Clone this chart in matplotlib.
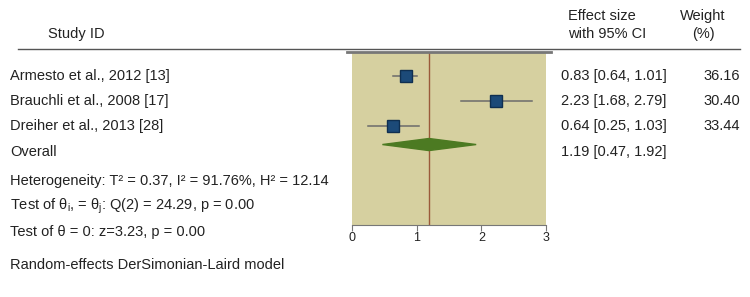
import matplotlib
matplotlib.use("Agg")
import matplotlib.pyplot as plt
from matplotlib.lines import Line2D

plt.rcParams["font.family"] = ["Liberation Sans", "DejaVu Sans"]
plt.rcParams["mathtext.fontset"] = "custom"
plt.rcParams["mathtext.rm"] = "Liberation Sans"
plt.rcParams["mathtext.it"] = "Liberation Sans"

studies = ["Armesto et al., 2012 [13]", "Brauchli et al., 2008 [17]", "Dreiher et al., 2013 [28]"]
effect = [0.83, 2.23, 0.64]
ci_low = [0.64, 1.68, 0.25]
ci_high = [1.01, 2.79, 1.03]
weight = [36.16, 30.40, 33.44]
overall = 1.19
overall_low = 0.47
overall_high = 1.92
stats_lines = [
    "Heterogeneity: T\u00b2 = 0.37, I\u00b2 = 91.76%, H\u00b2 = 12.14",
    "Test of \u03b8$_i$, = \u03b8$_j$: Q(2) = 24.29, p = 0.00",
    "Test of \u03b8 = 0: z=3.23, p = 0.00",
]
model_note = "Random-effects DerSimonian-Laird model"

W, H = 750, 297
fig = plt.figure(figsize=(W / 100, H / 100), dpi=100)


def fx(px):
    return px / W


def fy(py):
    return 1 - py / H


TXT = "#222222"
FS = 10.5

# forest panel
ax = fig.add_axes([fx(352), fy(225), fx(546) - fx(352), fy(52) - fy(225)])
ax.set_facecolor("#d6d0a0")
ax.set_xlim(0, 3)
ax.set_ylim(5.92, -0.96)
rows = list(range(len(studies)))
for i in rows:
    ax.plot([ci_low[i], ci_high[i]], [i, i], color="#6b6b6b", lw=1.1, zorder=2)
    ax.plot(effect[i], i, marker="s", ms=8.5 + (weight[i] - 30) * 0.1,
            color="#1c4a78", mec="#0f2f50", zorder=3)
ov = len(studies)
ax.axvline(overall, color="#9a5a3a", lw=1.0, zorder=1)
ax.fill([overall_low, overall, overall_high, overall],
        [ov - 0.28, ov - 0.52, ov - 0.28, ov - 0.04], color="#4c7a22", zorder=4)
for s in ["top", "right", "left"]:
    ax.spines[s].set_visible(False)
ax.spines["bottom"].set_color("#777777")
ax.set_yticks([])
ax.set_xticks([0, 1, 2, 3])
ax.tick_params(axis="x", length=4, color="#777777", labelsize=9, pad=1, labelcolor=TXT)

# header lines
fig.add_artist(Line2D([fx(18), fx(740)], [fy(49), fy(49)], color="#555555", lw=1.0))
fig.add_artist(Line2D([fx(347), fx(551)], [fy(52), fy(52)], color="#777777", lw=2.0))

# headers
fig.text(fx(48), fy(34), "Study ID", fontsize=FS, color=TXT, va="center")
fig.text(fx(568), fy(16), "Effect size", fontsize=FS, color=TXT, va="center")
fig.text(fx(568), fy(34), "with 95% CI", fontsize=FS, color=TXT, va="center")
fig.text(fx(703), fy(16), "Weight", fontsize=FS, color=TXT, va="center", ha="center")
fig.text(fx(703), fy(34), "(%)", fontsize=FS, color=TXT, va="center", ha="center")

row_y = [76, 101, 126, 152]
for i, name in enumerate(studies):
    fig.text(fx(10), fy(row_y[i]), name, fontsize=FS, color=TXT, va="center")
    fig.text(fx(561), fy(row_y[i]), f"{effect[i]:.2f} [{ci_low[i]:.2f}, {ci_high[i]:.2f}]",
             fontsize=FS, color=TXT, va="center")
    fig.text(fx(740), fy(row_y[i]), f"{weight[i]:.2f}", fontsize=FS, color=TXT,
             va="center", ha="right")
fig.text(fx(10), fy(row_y[3]), "Overall", fontsize=FS, color=TXT, va="center")
fig.text(fx(561), fy(row_y[3]), f"{overall:.2f} [{overall_low:.2f}, {overall_high:.2f}]",
         fontsize=FS, color=TXT, va="center")

for line, py in zip(stats_lines, [181, 206, 232]):
    fig.text(fx(10), fy(py), line, fontsize=FS, color=TXT, va="center")
fig.text(fx(10), fy(265), model_note, fontsize=FS, color=TXT, va="center")

fig.savefig("out.png", dpi=100, facecolor="white")
